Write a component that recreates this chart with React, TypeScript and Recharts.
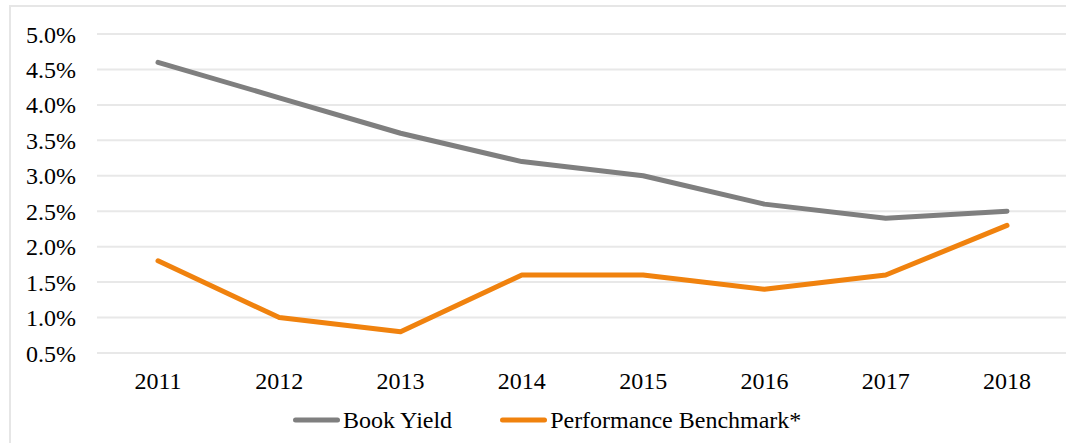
import React from "react";
import { LineChart, Line, XAxis, YAxis, CartesianGrid, Legend } from "recharts";

const years = ["2011", "2012", "2013", "2014", "2015", "2016", "2017", "2018"];
const bookYield = [4.6, 4.1, 3.6, 3.2, 3.0, 2.6, 2.4, 2.5];
const benchmark = [1.8, 1.0, 0.8, 1.6, 1.6, 1.4, 1.6, 2.3];
const yTicks = [0.5, 1.0, 1.5, 2.0, 2.5, 3.0, 3.5, 4.0, 4.5, 5.0];
const seriesNames = ["Book Yield", "Performance Benchmark*"];

const GRAY = "#7f7f7f";
const ORANGE = "#f0820e";
const FONT = "Liberation Serif";
const FS = 24;

const data = years.map((y, i) => ({ year: y, book: bookYield[i], bench: benchmark[i] }));

const LegendContent = () => {
  const items = [
    { name: seriesNames[0], color: GRAY },
    { name: seriesNames[1], color: ORANGE },
  ];
  return (
    <div style={{ display: "flex", alignItems: "center", fontFamily: FONT, fontSize: FS, color: "#000", whiteSpace: "nowrap" }}>
      {items.map((it, i) => (
        <div key={it.name} style={{ display: "flex", alignItems: "center", marginRight: i === 0 ? 48 : 0 }}>
          <svg width={47} height={10} style={{ display: "block" }}>
            <line x1={2.5} y1={5} x2={44.5} y2={5} stroke={it.color} strokeWidth={5} strokeLinecap="round" />
          </svg>
          <span style={{ marginLeft: 3, lineHeight: "24px" }}>{it.name}</span>
        </div>
      ))}
    </div>
  );
};

export default function App() {
  return (
    <div style={{ position: "absolute", left: 0, top: 0, width: 1066, height: 443, overflow: "hidden", background: "#fff", fontFamily: FONT }}>
      <div
        style={{
          position: "absolute",
          left: 9,
          top: 5,
          width: 1100,
          height: 500,
          border: "2px solid #e6e6e6",
          boxSizing: "border-box",
        }}
      />
      <div style={{ position: "absolute", left: 0, top: 0 }}>
        <LineChart width={1070} height={443} data={data} margin={{ top: 34, right: 2, bottom: 60, left: 10 }}>
          <CartesianGrid vertical={false} stroke="#e8e8e8" strokeWidth={2} />
          <XAxis
            dataKey="year"
            axisLine={false}
            tickLine={false}
            height={30}
            padding={{ left: 61, right: 61 }}
            tickSize={6}
            tickMargin={13}
            tick={{ fontFamily: FONT, fontSize: FS, fill: "#000" }}
          />
          <YAxis
            domain={[0.5, 5]}
            ticks={yTicks}
            interval={0}
            axisLine={false}
            tickLine={false}
            width={87}
            tickSize={6}
            tickMargin={15}
            tickFormatter={(v: number) => v.toFixed(1) + "%"}
            tick={{ fontFamily: FONT, fontSize: FS, fill: "#000" }}
          />
          <Line
            type="linear"
            dataKey="book"
            name={seriesNames[0]}
            stroke={GRAY}
            strokeWidth={5}
            strokeLinecap="round"
            strokeLinejoin="round"
            dot={false}
            activeDot={false}
            isAnimationActive={false}
          />
          <Line
            type="linear"
            dataKey="bench"
            name={seriesNames[1]}
            stroke={ORANGE}
            strokeWidth={5}
            strokeLinecap="round"
            strokeLinejoin="round"
            dot={false}
            activeDot={false}
            isAnimationActive={false}
          />
          <Legend
            verticalAlign="middle"
            align="center"
            content={<LegendContent />}
            wrapperStyle={{ left: 293, top: 408, width: "auto" }}
          />
        </LineChart>
      </div>
    </div>
  );
}
